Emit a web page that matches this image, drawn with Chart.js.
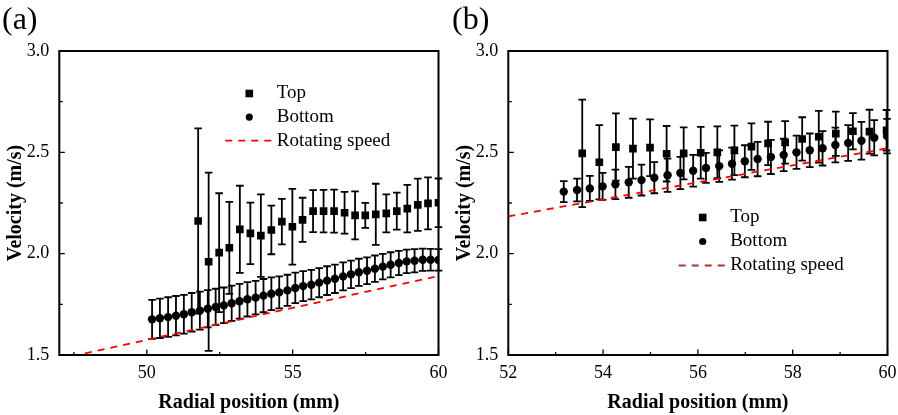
<!DOCTYPE html>
<html><head><meta charset="utf-8">
<script src="https://cdn.jsdelivr.net/npm/chart.js@4.4.1/dist/chart.umd.min.js"></script>
<style>
html,body{margin:0;padding:0;background:#fff;}
#wrap{position:relative;width:898px;height:415px;overflow:hidden;background:#fff;}
.pane{position:absolute;top:0;width:449px;height:415px;}
canvas{display:block;}
</style></head><body>
<div id="wrap">
<div class="pane" style="left:0"><canvas id="ca" width="449" height="415"></canvas></div>
<div class="pane" style="left:449px"><canvas id="cb" width="449" height="415"></canvas></div>
</div>
<script>
// ---------- Panel (a) data ----------
const xTopA = [51.76,52.12,52.48,52.83,53.19,53.55,53.91,54.27,54.63,54.99,55.34,55.70,56.06,56.42,56.78,57.14,57.49,57.85,58.21,58.57,58.93,59.29,59.64,60.00];
const yTopA = [2.161,1.960,2.005,2.029,2.120,2.100,2.089,2.117,2.158,2.133,2.167,2.210,2.210,2.210,2.202,2.189,2.189,2.194,2.199,2.210,2.222,2.241,2.248,2.251];
const errTopA = [0.457,0.440,0.293,0.227,0.215,0.152,0.204,0.120,0.112,0.187,0.109,0.104,0.105,0.106,0.103,0.118,0.062,0.151,0.094,0.091,0.117,0.129,0.128,0.120];

const xBottomA = [50.18,50.45,50.73,51.00,51.27,51.54,51.82,52.09,52.36,52.64,52.91,53.18,53.45,53.73,54.00,54.27,54.54,54.82,55.09,55.36,55.64,55.91,56.18,56.45,56.73,57.00,57.27,57.55,57.82,58.09,58.36,58.64,58.91,59.18,59.46,59.73,60.00];
const yBottomA = [1.676,1.681,1.687,1.694,1.701,1.711,1.719,1.728,1.737,1.745,1.755,1.765,1.775,1.783,1.793,1.802,1.809,1.819,1.831,1.840,1.847,1.857,1.867,1.876,1.888,1.898,1.908,1.916,1.926,1.936,1.945,1.954,1.962,1.965,1.970,1.970,1.969];
const errBottomA = [0.096,0.097,0.098,0.097,0.096,0.095,0.094,0.092,0.090,0.088,0.087,0.086,0.085,0.083,0.082,0.081,0.079,0.077,0.075,0.074,0.073,0.072,0.071,0.070,0.069,0.068,0.067,0.066,0.065,0.063,0.062,0.060,0.058,0.057,0.055,0.054,0.053];

const xRotA = [47.88, 60.00];
const yRotA = [1.508, 1.890];

// ---------- Panel (b) data ----------
const xTopB = [53.56,53.92,54.27,54.63,54.99,55.34,55.70,56.06,56.41,56.77,57.13,57.48,57.84,58.20,58.55,58.91,59.27,59.62,59.98];
const yTopB = [2.495,2.451,2.526,2.518,2.523,2.493,2.495,2.498,2.500,2.510,2.528,2.544,2.549,2.566,2.577,2.592,2.604,2.602,2.609];
const errTopB = [0.265,0.183,0.166,0.148,0.140,0.137,0.128,0.128,0.128,0.122,0.115,0.107,0.105,0.107,0.128,0.109,0.089,0.108,0.100];

const xBottomB = [53.17,53.45,53.72,53.99,54.26,54.54,54.81,55.08,55.36,55.63,55.90,56.17,56.45,56.72,56.99,57.26,57.54,57.81,58.08,58.36,58.63,58.90,59.17,59.45,59.72,59.99];
const yBottomB = [2.306,2.314,2.322,2.332,2.342,2.352,2.363,2.375,2.387,2.398,2.409,2.423,2.432,2.444,2.456,2.467,2.477,2.487,2.500,2.510,2.520,2.536,2.546,2.557,2.572,2.580];
const errBottomB = [0.052,0.056,0.062,0.067,0.073,0.076,0.076,0.077,0.082,0.080,0.078,0.074,0.078,0.079,0.079,0.085,0.084,0.080,0.082,0.083,0.085,0.086,0.088,0.093,0.087,0.085];

const xRotB = [52.00, 60.00];
const yRotB = [2.184, 2.520];

// ---------- Axes / labels ----------
const xTicksA = [50, 55, 60];
const xMinorA = [47.5, 52.5, 57.5];
const xTicksB = [52, 54, 56, 58, 60];
const xMinorB = [53, 55, 57, 59];
const yTicks = [1.5, 2.0, 2.5, 3.0];
const yMinor = [1.75, 2.25, 2.75];
const legendLabels = ['Top', 'Bottom', 'Rotating speed'];
const xTitle = 'Radial position (mm)';
const yTitle = 'Velocity (m/s)';
const panelLabels = ['(a)', '(b)'];

const SERIF = '"Liberation Serif", "Times New Roman", Times, serif';

function pts(xs, ys) { return xs.map((x, i) => ({x: x, y: ys[i]})); }

const decoPlugin = {
  id: 'deco',
  beforeDatasetsDraw(chart) {
    const ctx = chart.ctx, xs = chart.scales.x, ys = chart.scales.y;
    ctx.save();
    ctx.strokeStyle = '#000';
    ctx.lineWidth = 1.8;
    chart.data.datasets.forEach(ds => {
      if (!ds.errors) return;
      ds.data.forEach((p, i) => {
        const e = ds.errors[i];
        const px = xs.getPixelForValue(p.x);
        const y1 = ys.getPixelForValue(p.y + e);
        const y2 = ys.getPixelForValue(p.y - e);
        ctx.beginPath();
        ctx.moveTo(px, y1); ctx.lineTo(px, y2);
        ctx.moveTo(px - 3.8, y1); ctx.lineTo(px + 3.8, y1);
        ctx.moveTo(px - 3.8, y2); ctx.lineTo(px + 3.8, y2);
        ctx.stroke();
      });
    });
    ctx.restore();
  },
  afterDatasetsDraw(chart, args, o) {
    const ctx = chart.ctx, a = chart.chartArea, xs = chart.scales.x, ys = chart.scales.y;
    ctx.save();
    // ticks (inward)
    ctx.strokeStyle = '#000';
    ctx.lineWidth = 1.3;
    ctx.beginPath();
    o.xMajor.forEach(v => { const p = xs.getPixelForValue(v); ctx.moveTo(p, a.bottom); ctx.lineTo(p, a.bottom - 5.5); });
    o.xMinor.forEach(v => { const p = xs.getPixelForValue(v); ctx.moveTo(p, a.bottom); ctx.lineTo(p, a.bottom - 3); });
    o.yMajor.forEach(v => { const p = ys.getPixelForValue(v); ctx.moveTo(a.left, p); ctx.lineTo(a.left + 5.5, p); });
    o.yMinor.forEach(v => { const p = ys.getPixelForValue(v); ctx.moveTo(a.left, p); ctx.lineTo(a.left + 3.5, p); });
    ctx.stroke();
    // frame
    ctx.lineWidth = 2;
    ctx.strokeRect(a.left, a.top, a.right - a.left, a.bottom - a.top);
    // legend
    const L = o.legend;
    ctx.fillStyle = '#000';
    ctx.fillRect(L.x - 3.8, L.y - 3.8, 7.6, 7.6);
    ctx.beginPath();
    ctx.arc(L.x, L.y + L.dy, 3.6, 0, Math.PI * 2);
    ctx.fill();
    ctx.strokeStyle = L.dashColor;
    ctx.lineWidth = 1.8;
    ctx.setLineDash([7, 6]);
    ctx.beginPath();
    ctx.moveTo(L.x - 24, L.y + 2 * L.dy); ctx.lineTo(L.x + 23, L.y + 2 * L.dy);
    ctx.stroke();
    ctx.setLineDash([]);
    ctx.font = '19px ' + SERIF;
    ctx.textBaseline = 'middle';
    ctx.textAlign = 'left';
    ctx.fillStyle = '#000';
    legendLabels.forEach((t, i) => ctx.fillText(t, L.x + L.tx, L.y + i * L.dy));
    // panel label
    ctx.font = '32px ' + SERIF;
    ctx.textBaseline = 'alphabetic';
    ctx.fillText(o.label, o.labelX, 29);
    ctx.restore();
  }
};

function makeChart(id, d) {
  return new Chart(document.getElementById(id), {
    type: 'scatter',
    data: {
      datasets: [
        { label: legendLabels[0], data: pts(d.xTop, d.yTop), errors: d.errTop,
          pointStyle: 'rect', pointRadius: 5.4, pointHoverRadius: 5.4,
          backgroundColor: '#000', borderColor: '#000', borderWidth: 0, showLine: false },
        { label: legendLabels[1], data: pts(d.xBot, d.yBot), errors: d.errBot,
          pointStyle: 'circle', pointRadius: 4.2, pointHoverRadius: 4.2,
          backgroundColor: '#000', borderColor: '#000', borderWidth: 0, showLine: false },
        { label: legendLabels[2], data: pts(d.xRot, d.yRot),
          showLine: true, pointRadius: 0, borderColor: '#f00', borderWidth: 1.8,
          borderDash: [7, 6], fill: false }
      ]
    },
    options: {
      responsive: false, animation: false, devicePixelRatio: 1,
      layout: { padding: { top: 51, right: 10.5, left: 0, bottom: 0 } },
      plugins: {
        legend: { display: false }, tooltip: { enabled: false },
        deco: { xMajor: d.xTicks, xMinor: d.xMinor, yMajor: yTicks, yMinor: yMinor,
                legend: d.legend, label: d.label, labelX: d.labelX }
      },
      scales: {
        x: {
          type: 'linear', min: d.xMin, max: 60,
          afterBuildTicks: s => { s.ticks = d.xTicks.map(v => ({value: v})); },
          afterFit: s => { s.height = 60; s.paddingLeft = 0; s.paddingRight = 0; },
          grid: { display: false, drawTicks: false }, border: { display: false },
          ticks: { color: '#000', font: { family: SERIF, size: 18 }, padding: 7,
                   maxRotation: 0, autoSkip: false, callback: v => String(v) },
          title: { display: true, text: xTitle, color: '#000',
                   font: { family: SERIF, size: 20, weight: 'bold' }, padding: { top: 0, bottom: 0 } }
        },
        y: {
          type: 'linear', min: 1.5, max: 3.0,
          afterBuildTicks: s => { s.ticks = yTicks.map(v => ({value: v})); },
          afterFit: s => { s.width = 59.3; s.paddingTop = 0; s.paddingBottom = 0; },
          grid: { display: false, drawTicks: false }, border: { display: false },
          ticks: { color: '#000', font: { family: SERIF, size: 18 }, padding: 10,
                   callback: v => Number(v).toFixed(1) },
          title: { display: true, text: yTitle, color: '#000',
                   font: { family: SERIF, size: 20, weight: 'bold' }, padding: { top: 4, bottom: 0 } }
        }
      }
    },
    plugins: [decoPlugin]
  });
}

makeChart('ca', {
  xTop: xTopA, yTop: yTopA, errTop: errTopA,
  xBot: xBottomA, yBot: yBottomA, errBot: errBottomA,
  xRot: xRotA, yRot: yRotA, xMin: 47, xTicks: xTicksA, xMinor: xMinorA,
  legend: { x: 249.3, y: 93.5, dy: 23.6, tx: 27.5, dashColor: '#f00' },
  label: panelLabels[0], labelX: 2
});
makeChart('cb', {
  xTop: xTopB, yTop: yTopB, errTop: errTopB,
  xBot: xBottomB, yBot: yBottomB, errBot: errBottomB,
  xRot: xRotB, yRot: yRotB, xMin: 52, xTicks: xTicksB, xMinor: xMinorB,
  legend: { x: 253.7, y: 217.5, dy: 24, tx: 27.5, dashColor: '#b8302a' },
  label: panelLabels[1], labelX: 3
});
</script>
</body></html>
